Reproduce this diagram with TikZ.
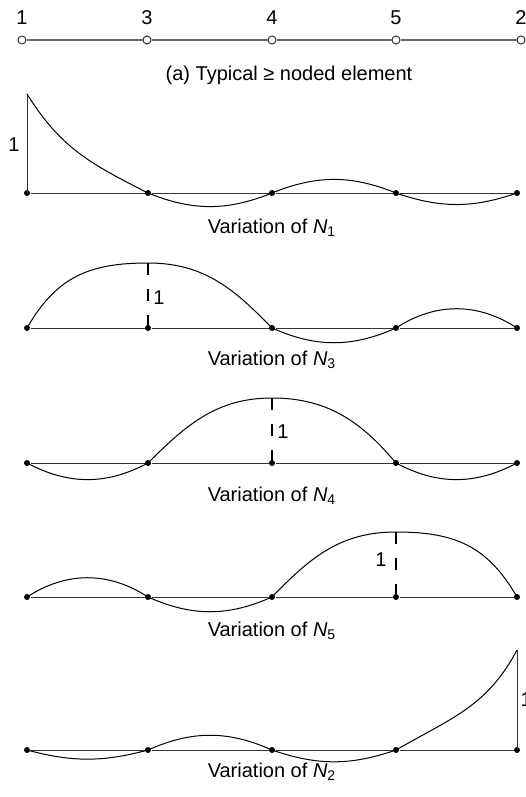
\documentclass[tikz,border=0pt]{standalone}
\usepackage{fontspec}
\setmainfont{Liberation Sans}
\usetikzlibrary{positioning}
\definecolor{cgrey}{HTML}{6B6B6B}
\definecolor{cdark}{HTML}{333333}
\tikzset{
  every picture/.style={font=\fontsize{10}{12}\selectfont, line width=0.5pt},
  dot/.style={circle, fill=black, inner sep=0pt, minimum size=3pt},
  hole/.style={circle, draw=cdark, fill=white, line width=0.5pt, inner sep=0pt, minimum size=4pt},
  topline/.style={draw=cgrey, line width=0.65pt},
  axis/.style={draw=cdark, line width=0.5pt},
  curve/.style={draw=black, line width=0.5pt},
  unit/.style={draw=black, line width=1pt, dash pattern=on 6pt off 7pt},
  caption/.style={font=\fontsize{10}{12}\selectfont},
}

\begin{document}
\begin{tikzpicture}[x=0.5pt, y=0.5pt]
  \useasboundingbox (0,0) rectangle (525,-797);
  \foreach \n/\x in {1/22, 3/147, 4/272, 5/396, 2/521} {
    \node[hole] (t\n) at (\x,-40) {};
    \node[above=5.3pt of t\n, inner sep=0pt] (tl\n) {\n};
  }
  \draw[topline] (t1) -- (t3) -- (t4) -- (t5) -- (t2);
  \node[caption] (cap) at (289,-75) {(a) Typical ≥ noded element};
  \foreach \p/\y in {1/193, 3/328, 4/463, 5/597, 2/750} {
    \foreach \n/\x in {1/27, 3/148, 4/272, 5/396, 2/517}
      \node[dot] (f\p-\n) at (\x,-\y) {};
    \draw[axis] (f\p-1) -- (f\p-3) -- (f\p-4) -- (f\p-5) -- (f\p-2);
  }

  \coordinate (f1-top) at (27,-94);
  \draw[axis] (f1-1.center) -- (f1-top);
  \draw[curve] (f1-top) to[out=-58, in=153, looseness=1.05] (f1-3.center) to[out=-22, in=-158] (f1-4.center)
    to[out=22, in=158] (f1-5.center) to[out=-19, in=-161] (f1-2.center);
  \node (f1-lab) at (14,-145) {1};
  \node[caption] (c1) at (272,-228) {Variation of \textit{N}\textsubscript{1}};

  \coordinate (f3-top) at (148,-263);
  \draw[curve] (f3-1.center) to[out=60, in=180, looseness=1.1] (f3-top) .. controls +(57,0) and +(-37,38) .. (f3-4.center)
    to[out=-24, in=-156] (f3-5.center) to[out=33, in=147] (f3-2.center);
  \draw[unit] (f3-top) -- (f3-3.center);
  \node (f3-lab) at (159,-298) {1};
  \node[caption] (c3) at (272,-360) {Variation of \textit{N}\textsubscript{3}};

  \coordinate (f4-top) at (272,-398);
  \draw[curve] (f4-1.center) to[out=-28, in=-152] (f4-3.center) to[out=45, in=180] (f4-top)
    to[out=0, in=130] (f4-5.center) to[out=-28, in=-152] (f4-2.center);
  \draw[unit] (f4-top) -- (f4-4.center);
  \node (f4-lab) at (283,-432) {1};
  \node[caption] (c4) at (272,-496) {Variation of \textit{N}\textsubscript{4}};

  \coordinate (f5-top) at (396,-532);
  \draw[curve] (f5-1.center) to[out=33, in=147] (f5-3.center) to[out=-24, in=-156] (f5-4.center)
    .. controls +(37,38) and +(-57,0) .. (f5-top) to[out=0, in=120, looseness=1.1] (f5-2.center);
  \draw[unit] (f5-top) -- (f5-5.center);
  \node (f5-lab) at (381,-560) {1};
  \node[caption] (c5) at (272,-631) {Variation of \textit{N}\textsubscript{5}};

  \coordinate (f2-top) at (517,-650);
  \draw[curve] (f2-1.center) to[out=-15, in=-165] (f2-3.center) to[out=24, in=156] (f2-4.center)
    to[out=-19, in=-161] (f2-5.center) to[out=30, in=-118, looseness=1.05] (f2-top);
  \draw[axis] (f2-2.center) -- (f2-top);
  \node[anchor=west, inner sep=0pt] (f2-lab) at (520,-700) {1};
  \node[caption] (c2) at (272,-772) {Variation of \textit{N}\textsubscript{2}};
\end{tikzpicture}
\end{document}
